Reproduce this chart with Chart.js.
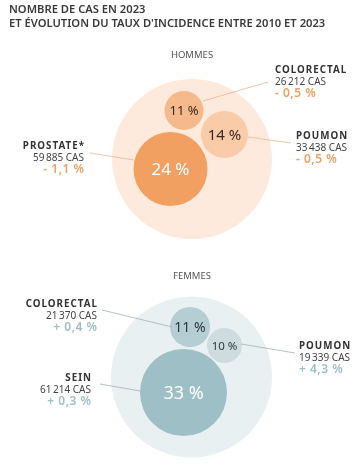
<!DOCTYPE html>
<html lang="fr">
<head>
<meta charset="UTF-8">
<title>Nombre de cas en 2023</title>
<script src="https://cdn.jsdelivr.net/npm/chart.js"></script>
<style>
  body { margin: 0; background: #fff; }
  .cadre { position: relative; width: 364px; height: 464px; }
</style>
</head>
<body>
<div class="cadre"><canvas id="graphique"></canvas></div>
<script>
// données
const titre = ["NOMBRE DE CAS EN 2023", "ET ÉVOLUTION DU TAUX D'INCIDENCE ENTRE 2010 ET 2023"];
const groupes = ["HOMMES", "FEMMES"];
const cancersHommes = ["PROSTATE*", "COLORECTAL", "POUMON"];
const partHommes = [24, 11, 14];
const casHommes = [59885, 26212, 33438];
const evolHommes = [-1.1, -0.5, -0.5];
const cancersFemmes = ["SEIN", "COLORECTAL", "POUMON"];
const partFemmes = [33, 11, 10];
const casFemmes = [61214, 21370, 19339];
const evolFemmes = [0.3, 0.4, 4.3];

// mise en page (coordonnées de l'échelle, 1 unité = 1 px)
const fonds = [{ x: 192, y: 159, r: 80 }, { x: 191.5, y: 377, r: 80.5 }];
const bullesHommes = [{ x: 170.5, y: 169, r: 37 }, { x: 184, y: 110.5, r: 19.5 }, { x: 224.5, y: 134.5, r: 23.5 }];
const bullesFemmes = [{ x: 183.5, y: 392.5, r: 43.5 }, { x: 190, y: 327, r: 20 }, { x: 224.5, y: 345.5, r: 17.5 }];
const etiqHommes = [
    { x: 84, y: 146, align: "right", trait: [90, 153, 134, 160] },
    { x: 275, y: 70, align: "left", trait: [203, 101, 268, 82] },
    { x: 296, y: 136, align: "left", trait: [248, 137, 291, 143] }
];
const etiqFemmes = [
    { x: 91, y: 378, align: "right", trait: [100, 384, 140, 391] },
    { x: 97, y: 304, align: "right", trait: [102, 310, 172, 327] },
    { x: 299, y: 346, align: "left", trait: [241, 344, 295, 353] }
];

const POLICE = "'Noto Sans', sans-serif";
const orange = ["#f1a062", "#f5b98c", "#f9cba8"];
const bleu = ["#9ebfc6", "#b4ced3", "#cedcdf"];

function fmtCas(n) {
    return n.toLocaleString("fr-FR").replace(/\s/g, "\u2009") + " CAS";
}
function fmtEvol(v) {
    return (v < 0 ? "- " : "+ ") + Math.abs(v).toFixed(1).replace(".", ",") + " %";
}

// texte avec espacement, aligné à gauche ou à droite
function texteEspace(ctx, txt, x, y, align, esp) {
    if ("letterSpacing" in ctx) {
        ctx.letterSpacing = esp + "px";
        ctx.textAlign = align;
        // l'espacement ajoute un blanc après la dernière lettre
        ctx.fillText(txt, align === "right" ? x + esp : x, y);
        ctx.letterSpacing = "0px";
        return;
    }
    ctx.textAlign = align;
    ctx.fillText(txt, x, y);
}

const textes = {
    id: "textes",
    afterDatasetsDraw(chart) {
        const ctx = chart.ctx;
        const sx = v => chart.scales.x.getPixelForValue(v);
        const sy = v => chart.scales.y.getPixelForValue(v);
        ctx.save();
        ctx.textBaseline = "middle";

        // titre
        ctx.fillStyle = "#3a3a3a";
        ctx.font = "600 11.2px " + POLICE;
        ctx.textAlign = "left";
        ctx.fillText(titre[0], sx(9), sy(10));
        ctx.fillText(titre[1], sx(9), sy(24));

        ctx.font = "9.5px " + POLICE;
        ctx.fillStyle = "#555";
        ctx.textAlign = "center";
        ctx.fillText(groupes[0], sx(192), sy(55));
        ctx.fillText(groupes[1], sx(192), sy(276));

        const series = [
            { noms: cancersHommes, part: partHommes, cas: casHommes, evol: evolHommes, bulles: bullesHommes, etiq: etiqHommes,
              trait: "#eab792", coulEvol: "#f0a062", texte: ["#fff", "#3b2a20", "#3b2a20"], tailles: [17, 13, 15] },
            { noms: cancersFemmes, part: partFemmes, cas: casFemmes, evol: evolFemmes, bulles: bullesFemmes, etiq: etiqFemmes,
              trait: "#9fb3b8", coulEvol: "#9fbfc6", texte: ["#fff", "#2b383c", "#2b383c"], tailles: [18, 14, 11.5] }
        ];

        series.forEach(s => {
            s.noms.forEach((nom, i) => {
                const b = s.bulles[i];
                const e = s.etiq[i];
                // trait de rappel
                ctx.strokeStyle = s.trait;
                ctx.lineWidth = 0.8;
                ctx.beginPath();
                ctx.moveTo(sx(e.trait[0]), sy(e.trait[1]));
                ctx.lineTo(sx(e.trait[2]), sy(e.trait[3]));
                ctx.stroke();

                // pourcentage dans la bulle
                ctx.textAlign = "center";
                ctx.fillStyle = s.texte[i];
                ctx.font = s.tailles[i] + "px " + POLICE;
                ctx.fillText(s.part[i] + " %", sx(b.x), sy(b.y + 1));

                // étiquette
                ctx.fillStyle = "#333";
                ctx.font = "bold 9.8px " + POLICE;
                texteEspace(ctx, nom, sx(e.x), sy(e.y), e.align, 1);
                ctx.fillStyle = "#444";
                ctx.font = "10px " + POLICE;
                ctx.textAlign = e.align;
                ctx.fillText(fmtCas(s.cas[i]), sx(e.x), sy(e.y + 12));
                ctx.fillStyle = s.coulEvol;
                ctx.font = "600 12px " + POLICE;
                texteEspace(ctx, fmtEvol(s.evol[i]), sx(e.x), sy(e.y + 24), e.align, 0.5);
            });
        });
        ctx.restore();
    }
};

new Chart(document.getElementById("graphique"), {
    type: "bubble",
    data: {
        datasets: [
            {
                label: "Hommes",
                data: bullesHommes.map((b, i) => ({ x: b.x, y: b.y, r: b.r, part: partHommes[i] })),
                backgroundColor: orange,
                borderWidth: 0,
                order: 1
            },
            {
                label: "Femmes",
                data: bullesFemmes.map((b, i) => ({ x: b.x, y: b.y, r: b.r, part: partFemmes[i] })),
                backgroundColor: bleu,
                borderWidth: 0,
                order: 1
            },
            {
                label: "Ensemble",
                data: fonds,
                backgroundColor: ["#fdeadd", "#e9f0f2"],
                borderWidth: 0,
                order: 2
            }
        ]
    },
    options: {
        responsive: true,
        maintainAspectRatio: false,
        animation: false,
        events: [],
        layout: { padding: 0, autoPadding: false },
        scales: {
            x: { type: "linear", min: 0, max: 364, display: false },
            y: { type: "linear", min: 0, max: 464, reverse: true, display: false }
        },
        plugins: {
            legend: { display: false },
            tooltip: { enabled: false }
        }
    },
    plugins: [textes]
});
</script>
</body>
</html>
